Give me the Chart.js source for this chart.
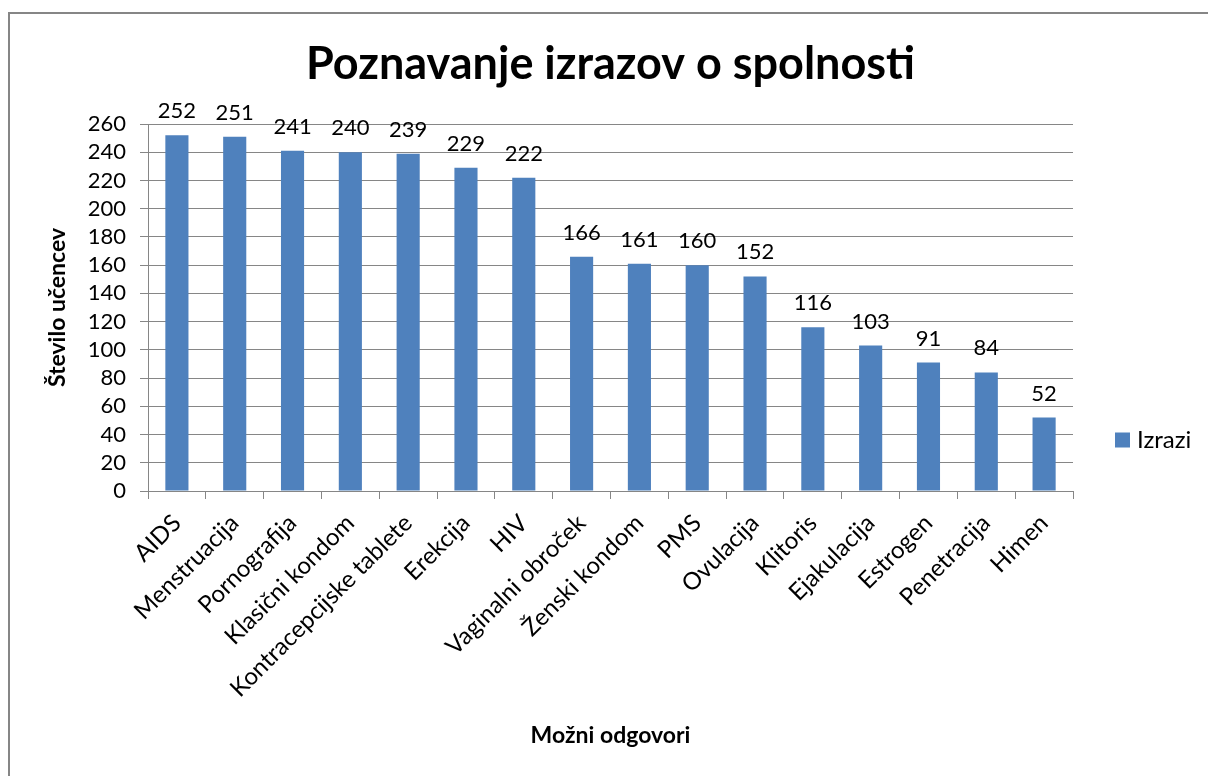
<!DOCTYPE html>
<html>
<head>
<meta charset="utf-8">
<script src="https://cdn.jsdelivr.net/npm/chart.js@4.4.0/dist/chart.umd.min.js"></script>
<style>
  html, body { margin: 0; padding: 0; background: #fff; }
  #wrap { width: 1208px; height: 776px; position: relative; }
</style>
</head>
<body>
<div id="wrap"><canvas id="izraziChart" width="1208" height="776"></canvas></div>
<script>
// podatki
const categories = ["AIDS", "Menstruacija", "Pornografija", "Klasični kondom", "Kontracepcijske tablete",
  "Erekcija", "HIV", "Vaginalni obroček", "Ženski kondom", "PMS", "Ovulacija", "Klitoris",
  "Ejakulacija", "Estrogen", "Penetracija", "Himen"];
const izraziValues = [252, 251, 241, 240, 239, 229, 222, 166, 161, 160, 152, 116, 103, 91, 84, 52];
const yTicks = [0, 20, 40, 60, 80, 100, 120, 140, 160, 180, 200, 220, 240, 260];
const seriesName = "Izrazi";

const fontName = "Lato, 'Open Sans', sans-serif";
const barColor = "#4F81BD";
const gridColor = "#868686";

// napisi nad stolpci + legenda + okvir
const extrasPlugin = {
  id: "extras",
  beforeDraw(chart) {
    const ctx = chart.ctx;
    ctx.save();
    ctx.strokeStyle = "#868686";
    ctx.lineWidth = 2;
    ctx.strokeRect(9, 13, 1220, 800);
    ctx.restore();
  },
  afterDatasetsDraw(chart) {
    const ctx = chart.ctx;
    const meta = chart.getDatasetMeta(0);
    ctx.save();
    ctx.font = "22px " + fontName;
    ctx.fillStyle = "#000";
    ctx.textAlign = "center";
    ctx.textBaseline = "alphabetic";
    meta.data.forEach((bar, i) => {
      ctx.fillText(String(izraziValues[i]), bar.x, bar.y - 17);
    });
    // legenda
    const ly = 440;
    ctx.fillStyle = barColor;
    ctx.fillRect(1115, ly - 7.5, 15, 15);
    ctx.fillStyle = "#000";
    ctx.font = "24px " + fontName;
    ctx.textAlign = "left";
    ctx.textBaseline = "middle";
    ctx.fillText(seriesName, 1137, ly);
    ctx.restore();
  }
};

var chartElement = document.getElementById("izraziChart").getContext("2d");
var chartObj = new Chart(chartElement, {
  type: "bar",
  data: {
    labels: categories,
    datasets: [{
      label: seriesName,
      data: izraziValues,
      backgroundColor: barColor,
      borderWidth: 0,
      categoryPercentage: 1.0,
      barPercentage: 0.4
    }]
  },
  options: {
    responsive: false,
    animation: false,
    layout: { padding: { left: 10, right: 135, top: 12, bottom: 0 } },
    plugins: {
      legend: { display: false },
      tooltip: { enabled: false },
      title: {
        display: true,
        fullSize: false,
        text: "Poznavanje izrazov o spolnosti",
        color: "#000",
        font: { family: fontName, size: 45, weight: "bold", lineHeight: 1.2 },
        padding: { top: 25, bottom: 33 }
      }
    },
    scales: {
      x: {
        offset: true,
        grid: {
          offset: true,
          drawOnChartArea: false,
          drawTicks: true,
          tickLength: 8,
          color: gridColor
        },
        border: { color: gridColor, width: 1 },
        ticks: {
          autoSkip: false,
          maxRotation: 45,
          minRotation: 45,
          padding: 10,
          color: "#000",
          font: { family: fontName, size: 24 }
        },
        title: {
          display: true,
          text: "Možni odgovori",
          color: "#000",
          font: { family: fontName, size: 23, weight: "bold" },
          padding: { top: 0, bottom: 27 }
        },
        afterFit: function(scale) { scale.height = 285; }
      },
      y: {
        min: 0,
        max: 260,
        afterBuildTicks: function(scale) { scale.ticks = yTicks.map(v => ({ value: v })); },
        grid: {
          color: gridColor,
          drawTicks: true,
          tickLength: 8
        },
        border: { color: gridColor, width: 1 },
        ticks: {
          autoSkip: false,
          padding: 14,
          color: "#000",
          font: { family: fontName, size: 22 }
        },
        title: {
          display: true,
          text: "Število učencev",
          color: "#000",
          font: { family: fontName, size: 23, weight: "bold" },
          padding: { top: 34 }
        },
        afterFit: function(scale) { scale.width = 138; }
      }
    }
  },
  plugins: [extrasPlugin]
});
</script>
</body>
</html>
